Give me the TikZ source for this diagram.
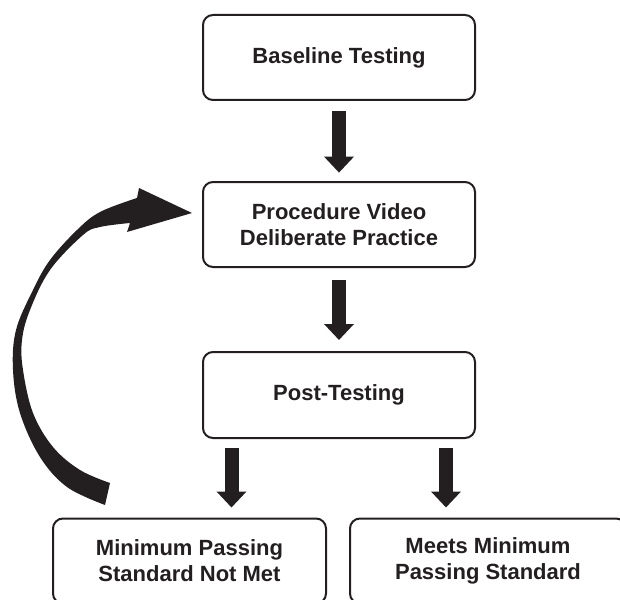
\documentclass[tikz,border=0pt]{standalone}
\usepackage{fontspec}
\setmainfont{Liberation Sans}
\usetikzlibrary{arrows.meta}
\definecolor{ink}{HTML}{231F20}
\tikzstyle{Stage}=[rectangle, rounded corners=5pt, draw=ink, line width=1pt, minimum width=136pt, minimum height=42.5pt, align=center, text=ink, font=\fontsize{11}{13}\selectfont\bfseries]
\tikzstyle{Flow}=[line width=7pt, draw=ink, -{Triangle[width=14.5pt,length=8pt]}]

\begin{document}
\begin{tikzpicture}[x=0.5pt, y=-0.5pt]
    \useasboundingbox (0,0) rectangle (620,599);
    \path
    (339,57.5) node[Stage] (base) {Baseline Testing}
    (339,224.5) node[Stage] (proc) {Procedure Video\\Deliberate Practice}
    (339,395) node[Stage, minimum height=43pt] (post) {Post-Testing};

    \path
    (189.5,561) node[Stage, minimum width=136.5pt] (notmet) {Minimum Passing\\Standard Not Met}
    (488,561) node[Stage, minimum width=138pt] (met) {Meets Minimum\\Passing Standard};

    \draw[Flow, shorten <=5pt, shorten >=4.2pt] (base) -- (proc);
    \draw[Flow, shorten <=6pt, shorten >=5.5pt] (proc) -- (post);
    \draw[Flow, shorten <=4.5pt, shorten >=5pt] ([xshift=-53.75pt]post.south) -- ([xshift=-53.75pt]post.south |- notmet.north);
    \draw[Flow, shorten <=4.5pt, shorten >=5pt] ([xshift=53.5pt]post.south) -- ([xshift=53.5pt]post.south |- met.north);

    % loop back to the practice step
    \fill[ink] plot[smooth, tension=0.6] coordinates {(105,505) (67,487) (40,457) (20,413) (13,370) (16,330) (33,290) (50,260) (77,230) (100,212) (137,198)}
        -- (139,188) -- (192,213) -- (127,232)
        -- plot[smooth, tension=0.6] coordinates {(130,223) (100,227) (83,235) (50,270) (30,310) (22,340) (23,370) (33,413) (53,447) (80,470) (110,483)}
        -- cycle;
\end{tikzpicture}
\end{document}
